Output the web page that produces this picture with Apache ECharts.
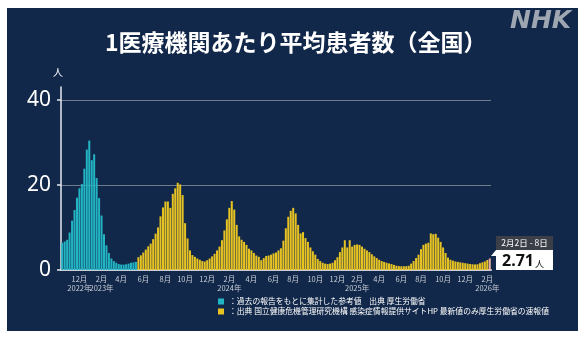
<!DOCTYPE html>
<html><head><meta charset="utf-8">
<script src="https://cdn.jsdelivr.net/npm/echarts@6/dist/echarts.min.js"></script>
<style>
html,body{margin:0;padding:0;background:#ffffff;}
#panel{position:absolute;left:7px;top:8px;width:571px;height:323px;background:#12284a;}
#chart{position:absolute;left:0;top:0;width:586px;height:338px;}
</style></head><body>
<div id="panel"></div><div id="chart"></div>
<script>
// ---- data ----
const titleText = '1医療機関あたり平均患者数（全国）';
const startWeek = [2022, 9, 3]; // first week (Mon) Oct 3 2022
const refName = '：過去の報告をもとに集計した参考値　出典 厚生労働省';
const sentinelName = '：出典 国立健康危機管理研究機構 感染症情報提供サイトHP 最新値のみ厚生労働省の速報値';
const refValues = [6.4, 6.7, 7.1, 8.8, 11.6, 14.1, 17.0, 19.2, 20.2, 23.8, 28.3, 30.4, 25.8, 27.2, 21.6, 16.9,
  12.8, 8.4, 5.8, 4.0, 2.7, 2.1, 1.7, 1.4, 1.3, 1.25, 1.35, 1.5, 1.7, 1.8, 1.9];
const sentinelValues = [3.0, 3.45, 4.1, 4.8, 5.55, 6.2, 7.25, 8.55, 10.0, 12.6, 14.7, 16.1, 16.1, 14.6, 17.9, 19.2,
  20.5, 20.1, 17.6, 11.0, 7.4, 4.6, 3.5, 3.1, 2.7, 2.4, 2.1, 2.0, 2.3, 2.7, 3.2, 3.8,
  4.6, 5.5, 7.0, 9.3, 11.9, 14.6, 16.2, 14.2, 10.6, 7.9, 7.1, 6.6, 5.9, 5.0, 4.6, 4.0,
  3.4, 3.1, 2.3, 2.8, 3.3, 3.4, 3.6, 3.9, 4.1, 4.6, 5.1, 6.9, 9.8, 12.5, 13.9, 14.6,
  13.3, 10.6, 8.6, 8.9, 7.5, 6.6, 5.3, 4.4, 3.6, 2.6, 2.1, 1.7, 1.5, 1.4, 1.5, 1.7,
  2.3, 3.0, 4.2, 5.3, 7.0, 5.3, 7.0, 5.5, 5.9, 6.0, 5.9, 5.5, 5.0, 4.6, 4.2, 3.7,
  3.2, 2.8, 2.4, 2.1, 1.9, 1.7, 1.55, 1.4, 1.2, 1.0, 0.92, 0.88, 0.88, 0.9, 1.0, 1.5,
  2.1, 2.8, 3.6, 4.9, 5.9, 6.2, 6.4, 8.6, 8.4, 8.5, 7.6, 6.6, 5.3, 4.0, 2.9, 2.4,
  2.2, 2.0, 1.9, 1.8, 1.7, 1.6, 1.5, 1.4, 1.35, 1.3, 1.35, 1.6, 1.8, 2.0, 2.35, 2.71];
const tickIndex = [7, 16, 24, 33, 42, 50, 59, 68, 77, 86, 94, 103, 112, 120, 129, 138, 146, 155, 164, 173];
const tickMonth = ['12月','2月','4月','6月','8月','10月','12月','2月','4月','6月','8月','10月','12月','2月','4月','6月','8月','10月','12月','2月'];
const tickYear  = ['2022年','2023年','','','','','','2024年','','','','','','2025年','','','','','','2026年'];
const yTicks = [0, 20, 40];
const yUnit = '人';
const latestPeriod = '2月2日 - 8日';

// ---- build ----
const nWeeks = refValues.length + sentinelValues.length;
const categories = [];
for (let i = 0; i < nWeeks; i++) {
  const d = new Date(Date.UTC(startWeek[0], startWeek[1], startWeek[2]) + i * 7 * 86400000);
  categories.push(d.toISOString().slice(0, 10));
}
const refData = refValues.concat(new Array(sentinelValues.length).fill(null));
const senData = new Array(refValues.length).fill(null).concat(sentinelValues.map((v, k) =>
  k === sentinelValues.length - 1 ? { value: v, itemStyle: { color: '#e8ad9f' } } : v));
const latestValue = sentinelValues[sentinelValues.length - 1];
const monthMap = {}, yearMaps = [{}, {}];
let yc = 0;
tickIndex.forEach((ix, k) => {
  monthMap[ix] = tickMonth[k];
  if (tickYear[k]) { yearMaps[yc % 2][ix] = tickYear[k]; yc++; }
});

const JP = '"Noto Sans CJK JP", "Noto Sans", sans-serif';
const chart = echarts.init(document.getElementById('chart'), null, { renderer: 'canvas' });
const labelBase = { color: '#c9ced6', fontSize: 7.5, fontFamily: JP, hideOverlap: false, showMinLabel: true, showMaxLabel: true };
const yearAxis = (map) => ({
  type: 'category', data: categories, boundaryGap: true, position: 'bottom', offset: 9,
  axisLine: { show: false }, axisTick: { show: false },
  axisLabel: Object.assign({}, labelBase, {
    interval: (index) => map[index] !== undefined,
    formatter: (value, index) => map[index] || '',
    margin: 5
  }),
  splitLine: { show: false }
});
chart.setOption({
  backgroundColor: 'transparent',
  animation: false,
  title: {
    text: titleText, left: 100, top: 26,
    textStyle: { color: '#ffffff', fontSize: 23, fontWeight: 'bold', fontFamily: JP }
  },
  legend: {
    orient: 'vertical', left: 213, top: 292,
    itemWidth: 6, itemHeight: 6, itemGap: 1, icon: 'rect', selectedMode: false,
    textStyle: { color: '#ffffff', fontSize: 7.8, lineHeight: 9, fontFamily: JP },
    data: [refName, sentinelName]
  },
  grid: { left: 61, right: 95, top: 87, bottom: 68, containLabel: false },
  xAxis: [{
    type: 'category', data: categories, boundaryGap: true,
    axisLine: { lineStyle: { color: '#c9ced6', width: 2 } },
    axisTick: { show: false },
    axisLabel: Object.assign({}, labelBase, {
      interval: (index) => monthMap[index] !== undefined,
      formatter: (value, index) => monthMap[index] || '',
      margin: 5
    }),
    splitLine: { show: false }
  }, yearAxis(yearMaps[0]), yearAxis(yearMaps[1])],
  yAxis: {
    type: 'value', min: 0, max: 43, interval: 20,
    name: yUnit, nameLocation: 'end', nameGap: 10,
    nameTextStyle: { color: '#ffffff', fontSize: 10, fontFamily: JP, padding: [0, 6, 0, 0] },
    axisLine: { show: true, lineStyle: { color: '#e6e9ee', width: 1.5 } },
    axisTick: { show: true, length: 4, inside: false, customValues: yTicks, lineStyle: { color: '#e6e9ee', width: 1.5 } },
    axisLabel: {
      customValues: yTicks,
      formatter: (v) => (v % 20 === 0 ? String(v) : ''),
      color: '#ffffff', fontSize: 21, margin: 10, fontFamily: '"Noto Sans", sans-serif'
    },
    splitLine: { show: true, lineStyle: { color: ['rgba(0,0,0,0)', '#6f7a8b', '#6f7a8b', 'rgba(0,0,0,0)'], width: 1 } }
  },
  series: [
    { name: refName, type: 'bar', data: refData, barGap: '-100%', barCategoryGap: '18%',
      itemStyle: { color: '#22b4c3' } },
    { name: sentinelName, type: 'bar', data: senData, barGap: '-100%', barCategoryGap: '18%',
      itemStyle: { color: '#e6c223' } }
  ],
  graphic: [
    { type: 'text', left: 510, top: 9,
      style: { text: 'NHK', font: 'italic bold 25px "DejaVu Sans"', fill: '#9ea6b1' } },
    { type: 'group', left: 491, top: 236, children: [
      { type: 'rect', shape: { x: 6, y: 0, width: 57, height: 14 }, style: { fill: '#3b4048' } },
      { type: 'text', x: 34.5, y: 7, style: { text: latestPeriod, fill: '#ffffff', fontSize: 8.5, fontFamily: JP, align: 'center', verticalAlign: 'middle' } },
      { type: 'rect', shape: { x: 6, y: 14, width: 57, height: 20 }, style: { fill: '#ffffff' } },
      { type: 'polygon', shape: { points: [[1, 20], [6, 14], [6, 20]] }, style: { fill: '#ffffff' } },
      { type: 'text', x: 12, y: 25, style: {
          text: '{v|' + latestValue.toFixed(2) + '}{u|' + yUnit + '}', verticalAlign: 'middle',
          rich: { v: { fontSize: 16, fontWeight: 'bold', fill: '#111111', fontFamily: '"Noto Sans", sans-serif' },
                  u: { fontSize: 9, fill: '#111111', fontFamily: JP, padding: [5, 0, 0, 1] } } } }
    ] }
  ]
});
</script>
</body></html>
